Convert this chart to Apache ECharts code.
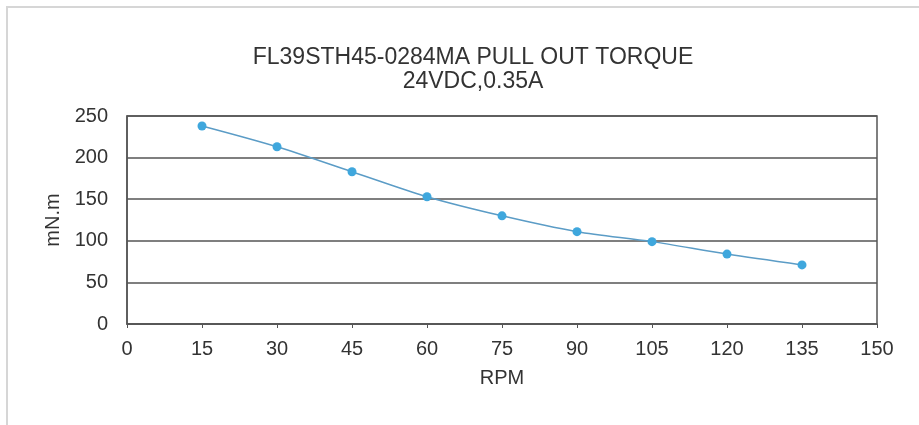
<!DOCTYPE html>
<html>
<head>
<meta charset="utf-8">
<script src="https://cdn.jsdelivr.net/npm/echarts@6/dist/echarts.min.js"></script>
<style>
html,body{margin:0;padding:0;background:#fff;}
#c{width:919px;height:425px;}
</style>
</head>
<body>
<div id="c"></div>
<script>
var titleText = 'FL39STH45-0284MA PULL OUT TORQUE\n24VDC,0.35A';
var rpm = [15, 30, 45, 60, 75, 90, 105, 120, 135];
var torque = [238, 213, 183, 153, 130, 111, 99, 84, 71];
var xName = 'RPM';
var yName = 'mN.m';

var chart = echarts.init(document.getElementById('c'));
var font = '"Liberation Sans", Arial, sans-serif';
var pts = rpm.map(function (r, i) { return [r, torque[i]]; });
chart.setOption({
  animation: false,
  backgroundColor: '#fff',
  graphic: [{
    type: 'rect',
    shape: { x: 7, y: 7, width: 1000, height: 1000 },
    style: { fill: 'none', stroke: '#d6d6d6', lineWidth: 2 }
  }],
  title: {
    text: titleText,
    left: 468,
    top: 41,
    textAlign: 'center',
    textStyle: { fontFamily: font, fontSize: 23, fontWeight: 'normal', color: '#333', lineHeight: 24 }
  },
  grid: { left: 127, right: 42, top: 116, bottom: 101, show: true, borderColor: '#555', borderWidth: 1.5 },
  xAxis: {
    type: 'value', min: 0, max: 150, interval: 15,
    name: xName, nameLocation: 'middle', nameGap: 44,
    nameTextStyle: { fontFamily: font, fontSize: 20, color: '#333' },
    axisLine: { show: true, lineStyle: { color: '#555', width: 1.5 } },
    axisTick: { show: true, length: 4, lineStyle: { color: '#555' } },
    axisLabel: { fontFamily: font, fontSize: 20, color: '#333', margin: 15 },
    splitLine: { show: false }
  },
  yAxis: {
    type: 'value', min: 0, max: 250, interval: 50,
    name: yName, nameLocation: 'middle', nameGap: 64,
    nameTextStyle: { fontFamily: font, fontSize: 20, color: '#333' },
    axisLine: { show: true, lineStyle: { color: '#555', width: 1.5 } },
    axisTick: { show: false },
    axisLabel: { fontFamily: font, fontSize: 20, color: '#333', margin: 19 },
    splitLine: { show: true, lineStyle: { color: '#555', width: 1.5 } }
  },
  series: [{
    type: 'line',
    data: pts,
    smooth: 0.3,
    symbol: 'circle',
    symbolSize: 9,
    lineStyle: { color: '#5b9cc6', width: 1.5 },
    itemStyle: { color: '#3fa7dd' }
  }]
});
</script>
</body>
</html>
